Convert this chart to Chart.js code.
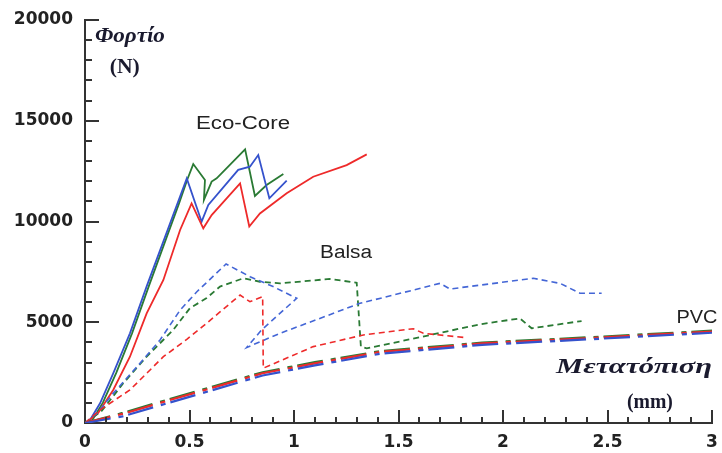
<!DOCTYPE html>
<html>
<head>
<meta charset="utf-8">
<script src="https://cdn.jsdelivr.net/npm/chart.js@4"></script>
<style>
  html, body { margin: 0; padding: 0; background: #fff; }
  #wrap { width: 722px; height: 453px; }
</style>
</head>
<body>
<div id="wrap"><canvas id="loadChart" width="722" height="453"></canvas></div>
<script>
// x ticks (mm) and y ticks (N)
const xTicks = [0, 0.5, 1, 1.5, 2, 2.5, 3];
const yTicks = [0, 5000, 10000, 15000, 20000];

// Eco-Core (solid)
const ecoRedX = [0, 0.06, 0.135, 0.215, 0.295, 0.375, 0.455, 0.51, 0.566, 0.606, 0.742, 0.786, 0.837, 0.965, 1.092, 1.252, 1.348];
const ecoRedY = [0, 450, 1640, 3290, 5440, 7100, 9580, 10900, 9660, 10320, 11890, 9750, 10400, 11400, 12220, 12800, 13330];
const ecoBlueX = [0, 0.024, 0.072, 0.135, 0.215, 0.295, 0.38, 0.487, 0.558, 0.59, 0.733, 0.789, 0.829, 0.882, 0.965];
const ecoBlueY = [0, 150, 980, 2460, 4450, 6780, 9150, 12140, 9990, 10820, 12560, 12720, 13300, 11150, 12030];
const ecoGreenX = [0, 0.035, 0.085, 0.15, 0.225, 0.305, 0.39, 0.45, 0.49, 0.518, 0.574, 0.569, 0.606, 0.63, 0.766, 0.813, 0.869, 0.949];
const ecoGreenY = [0, 150, 1000, 2500, 4450, 6780, 9200, 10900, 12100, 12850, 12060, 11070, 11980, 12140, 13580, 11270, 11810, 12360];

// Balsa (short dash)
const balsaRedX = [0, 0.072, 0.215, 0.375, 0.487, 0.582, 0.742, 0.789, 0.85, 0.853, 1.092, 1.332, 1.571, 1.619, 1.81];
const balsaRedY = [0, 650, 1640, 3290, 4150, 4950, 6350, 6020, 6270, 2720, 3790, 4370, 4680, 4450, 4250];
const balsaBlueX = [0, 0.06, 0.135, 0.263, 0.359, 0.455, 0.534, 0.675, 0.79, 0.9, 0.997, 1.013, 0.845, 0.774, 0.933, 1.316, 1.699, 1.746, 2.145, 2.273, 2.368, 2.472];
const balsaBlueY = [0, 500, 1470, 2960, 4120, 5600, 6500, 7890, 7260, 6770, 6270, 6190, 4620, 3750, 4450, 5940, 6930, 6650, 7180, 6930, 6440, 6440];
const balsaGreenX = [0, 0.08, 0.183, 0.295, 0.422, 0.502, 0.582, 0.646, 0.757, 0.837, 0.933, 1.172, 1.30, 1.32, 1.348, 1.6, 1.89, 2.081, 2.137, 2.376];
const balsaGreenY = [0, 600, 1970, 3290, 4620, 5700, 6200, 6770, 7180, 7010, 6930, 7150, 6960, 3790, 3700, 4250, 4900, 5190, 4700, 5060];

// PVC (long dash)
const pvcX = [0, 0.18, 0.4, 0.6, 0.85, 1.1, 1.41, 1.9, 2.46, 3.0];
const pvcGreenY = [0, 500, 1170, 1770, 2520, 3020, 3560, 3990, 4280, 4580];
const pvcRedY = [0, 450, 1120, 1720, 2470, 2960, 3520, 3950, 4240, 4540];
const pvcBlueY = [0, 330, 1000, 1600, 2360, 2860, 3430, 3880, 4180, 4480];

const RED = '#ee2a2a';
const BLUE = '#3552cc';
const GREEN = '#2a7a34';

function pts(xs, ys) {
    return xs.map((x, i) => ({ x: x, y: ys[i] }));
}

function series(xs, ys, color, dash, width) {
    return {
        data: pts(xs, ys),
        borderColor: color,
        borderWidth: width,
        borderDash: dash,
        pointRadius: 0,
        fill: false,
        tension: 0,
        showLine: true
    };
}

// text stretched to the width it has in the picture
function fitText(ctx, txt, cx, cy, w, font, color) {
    ctx.save();
    ctx.font = font;
    const m = ctx.measureText(txt).width;
    ctx.translate(cx, cy);
    ctx.scale(w / m, 1);
    ctx.textAlign = 'center';
    ctx.textBaseline = 'middle';
    ctx.fillStyle = color;
    ctx.fillText(txt, 0, 0);
    ctx.restore();
}

// inward ticks + labels drawn over the plot
const overlay = {
    id: 'overlay',
    afterDraw(chart) {
        const c = chart.ctx;
        const xs = chart.scales.x, ys = chart.scales.y;
        c.save();
        c.fillStyle = '#333';
        const bottom = ys.getPixelForValue(0);
        const left = xs.getPixelForValue(0);
        for (let i = 1; i <= 30; i++) {
            const px = Math.round(xs.getPixelForValue(i / 10));
            const len = i % 5 == 0 ? 13 : 6;
            c.fillRect(px - 1, bottom - len, 2, len);
        }
        for (let i = 1; i <= 20; i++) {
            const py = Math.round(ys.getPixelForValue(i * 1000));
            const len = i % 5 == 0 ? 14 : 7;
            c.fillRect(left, py - 1, len, 2);
        }
        c.restore();

        const at = (x, y) => [xs.getPixelForValue(x), ys.getPixelForValue(y)];
        let p;
        p = at(0.756, 14840); fitText(c, 'Eco-Core', p[0], p[1], 94, '18px "Liberation Sans"', '#222');
        p = at(1.249, 8440); fitText(c, 'Balsa', p[0], p[1], 52, '18px "Liberation Sans"', '#222');
        p = at(2.928, 5210); fitText(c, 'PVC', p[0], p[1], 41, '18px "Liberation Sans"', '#222');
        p = at(0.215, 19160); fitText(c, 'Φορτίο', p[0], p[1], 70, 'bold italic 21px "Liberation Serif"', '#1a1a2e');
        p = at(0.19, 17620); fitText(c, '(N)', p[0], p[1], 30, 'bold 20px "Liberation Serif"', '#1a1a2e');
        p = at(2.627, 2730); fitText(c, 'Μετατόπιση', p[0], p[1], 156, 'bold italic 21px "Liberation Serif"', '#1a1a2e');
        p = at(2.703, 990); fitText(c, '(mm)', p[0], p[1], 46, 'bold 20px "Liberation Serif"', '#1a1a2e');
    }
};

const ctx = document.getElementById('loadChart').getContext('2d');
const loadChart = new Chart(ctx, {
    type: 'scatter',
    data: {
        datasets: [
            series(pvcX, pvcBlueY, BLUE, [26, 8, 5, 5], 2.2),
            series(pvcX, pvcRedY, RED, [26, 8, 5, 5], 2.2),
            series(pvcX, pvcGreenY, GREEN, [26, 8, 5, 5], 2.2),
            series(balsaRedX, balsaRedY, RED, [6, 4], 1.6),
            series(balsaBlueX, balsaBlueY, '#4466d6', [6, 4], 1.6),
            series(balsaGreenX, balsaGreenY, GREEN, [6, 4], 1.8),
            series(ecoRedX, ecoRedY, RED, [], 1.8),
            series(ecoBlueX, ecoBlueY, BLUE, [], 1.8),
            series(ecoGreenX, ecoGreenY, GREEN, [], 1.8)
        ]
    },
    options: {
        responsive: false,
        animation: false,
        layout: { padding: { top: 20, right: 10, left: 0, bottom: 0 } },
        plugins: {
            legend: { display: false },
            tooltip: { enabled: false }
        },
        scales: {
            x: {
                type: 'linear',
                min: 0,
                max: 3,
                afterBuildTicks: (scale) => { scale.ticks = xTicks.map(v => ({ value: v })); },
                afterFit: (scale) => { scale.height = 30; },
                grid: { display: false },
                border: { display: true, color: '#333', width: 2 },
                ticks: {
                    padding: 1,
                    color: '#222',
                    font: { family: 'DejaVu Sans', size: 17, weight: 'bold' },
                    callback: (v) => String(v)
                }
            },
            y: {
                min: 0,
                max: 20000,
                afterBuildTicks: (scale) => { scale.ticks = yTicks.map(v => ({ value: v })); },
                afterFit: (scale) => { scale.width = 85; },
                grid: { display: false },
                border: { display: true, color: '#333', width: 2 },
                ticks: {
                    padding: 4,
                    color: '#222',
                    font: { family: 'DejaVu Sans', size: 17, weight: 'bold' },
                    callback: (v) => String(v)
                }
            }
        }
    },
    plugins: [overlay]
});
</script>
</body>
</html>
